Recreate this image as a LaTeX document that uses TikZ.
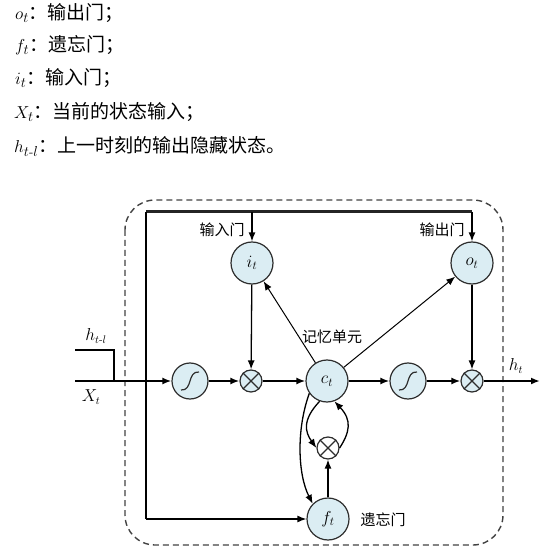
\documentclass[tikz,border=0pt]{standalone}
\usepackage{amsmath}
\usepackage{fontspec}
\newfontfamily\cjk{Noto Sans CJK SC}
\usetikzlibrary{arrows.meta}
\definecolor{cellfill}{RGB}{219,237,243}
\definecolor{edge}{RGB}{45,45,45}
\tikzset{
  gate/.style={circle,draw=edge,line width=1.2pt,fill=cellfill,minimum size=42pt,inner sep=0pt,font=\fontsize{17}{17}\selectfont},
  sig/.style={circle,draw=edge,line width=1.2pt,fill=cellfill,minimum size=36pt,inner sep=0pt},
  mult/.style={circle,draw=edge,line width=1.2pt,fill=cellfill,minimum size=22pt,inner sep=0pt},
  multw/.style={circle,draw=edge,line width=1.2pt,fill=white,minimum size=22pt,inner sep=0pt},
  tip/.style={-{Latex[length=9pt,width=7pt]}},
  thickarr/.style={tip,line width=2.8pt},
  thinarr/.style={tip,line width=1.3pt},
  lbl/.style={font=\cjk\fontsize{15}{15}\selectfont,inner sep=0pt},
  mlbl/.style={inner sep=0pt,font=\fontsize{16}{16}\selectfont},
  toptext/.style={anchor=west,inner sep=0pt,font=\fontsize{19}{19}\selectfont},
}
\newcommand{\sigmark}[1]{\draw[line width=1.2pt,edge] ([shift={(-9pt,-9pt)}]#1.center) .. controls ([shift={(3pt,-10pt)}]#1.center) and ([shift={(-3pt,10pt)}]#1.center) .. ([shift={(9pt,9pt)}]#1.center);}
\newcommand{\multmark}[1]{\draw[line width=1.1pt,edge] (#1.north west) -- (#1.south east) (#1.north east) -- (#1.south west);}
\begin{document}
\begin{tikzpicture}[x=1pt,y=-1pt]
\useasboundingbox (0,0) rectangle (554,553);
% top text
\node[toptext] (l1) at (15,13) {$o_t${\cjk：输出门；}};
\node[toptext] (l2) at (15,45) {$f_t${\cjk：遗忘门；}};
\node[toptext] (l3) at (15,78) {$i_t${\cjk：输入门；}};
\node[toptext] (l4) at (14,112) {$X_t${\cjk：当前的状态输入；}};
\node[toptext] (l5) at (14,146) {$h_{t\text{-}l}${\cjk：上一时刻的输出隐藏状态。}};
% dashed box
\draw[dashed,dash pattern=on 6pt off 4pt,line width=1.4pt,edge!90] (125,200) [rounded corners=30pt] rectangle (503,545);
% nodes
\node[gate] (i) at (252,263) {$i_t$};
\node[gate] (o) at (472,263) {$o_t$};
\node[gate] (c) at (327,381) {$c_t$};
\node[gate] (f) at (328,519) {$f_t$};
\node[sig] (s1) at (190,381) {};
\node[sig] (s2) at (408,381) {};
\node[mult] (m1) at (251,381) {};
\node[mult] (m2) at (472,381) {};
\node[multw] (m3) at (328,448) {};
\sigmark{s1}
\sigmark{s2}
\multmark{m1}
\multmark{m2}
\multmark{m3}
\coordinate (tl) at (146,212);
\coordinate (ti) at (252,212);
\coordinate (to) at (472,212);
\coordinate (bl) at (146,519);
\coordinate (in) at (75,381);
\coordinate (hin) at (75,350);
\coordinate (hc) at (114,350);
\coordinate (hj) at (114,381);
\coordinate (out) at (540,381);
% top bus
\draw[line width=3pt,edge!80!black] (tl) -- (to);
\draw[thinarr] (ti) -- (i);
\draw[thinarr] (to) -- (o);
\draw[line width=1.3pt] (tl) -- (bl);
\draw[thinarr] (bl) -- (f);
% input
\draw[line width=1.3pt] (hin) -- (hc) -- (hj);
\draw[thickarr] (in) -- (s1);
\draw[thickarr] (s1) -- (m1);
\draw[thickarr] (m1) -- (c);
\draw[thickarr] (c) -- (s2);
\draw[thickarr] (s2) -- (m2);
\draw[thickarr] (m2) -- (out);
% gates
\draw[thinarr] (i) -- (m1);
\draw[thinarr] (o) -- (m2);
\draw[tip,line width=1pt] (c) -- (i);
\draw[tip,line width=1pt] (c) -- (o);
% loop
\draw[thinarr] (c.250) .. controls (302,420) and (305,432) .. (m3.west);
\draw[thinarr] (m3.east) .. controls (350,432) and (352,420) .. (c.290);
\draw[thinarr] (c.215) .. controls (296,430) and (298,475) .. (f.north west);
\draw[thinarr] (f) -- (m3);
% labels
\node[lbl] (li) at (222,230) {输入门};
\node[lbl] (lo) at (442,230) {输出门};
\node[lbl] (lc) at (332,337) {记忆单元};
\node[lbl] (lf) at (383,520) {遗忘门};
\node[mlbl] (lh) at (96,336) {$h_{t\text{-}l}$};
\node[mlbl] (lx) at (91,397) {$X_t$};
\node[mlbl] (lht) at (516,366) {$h_t$};
\end{tikzpicture}
\end{document}
